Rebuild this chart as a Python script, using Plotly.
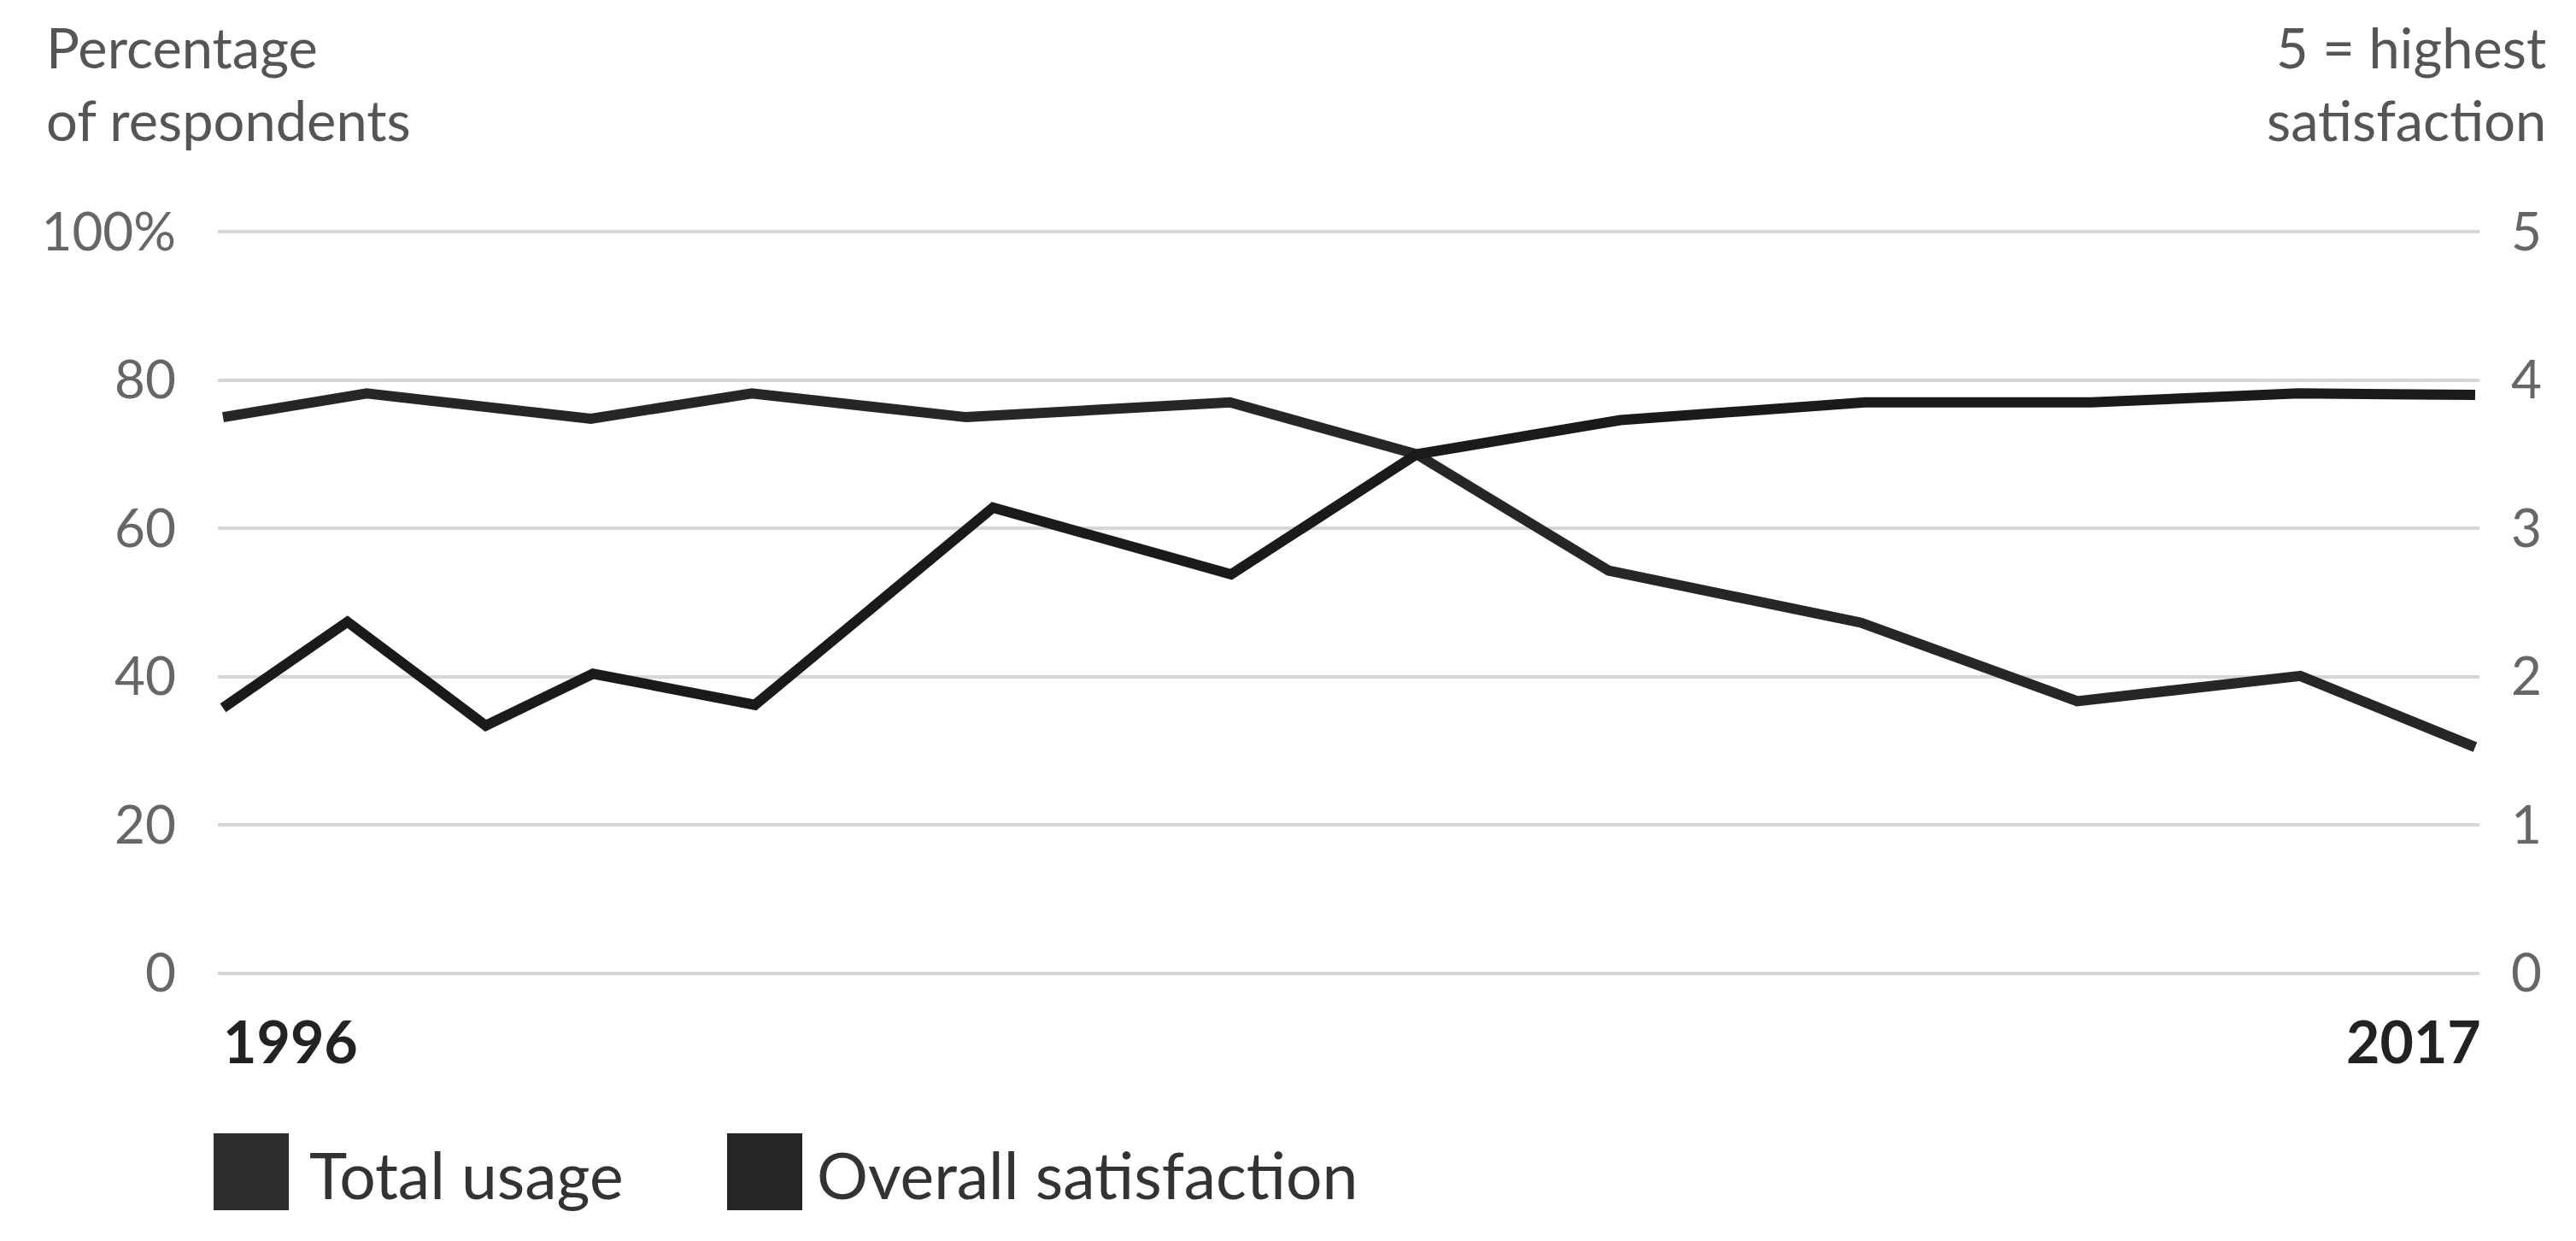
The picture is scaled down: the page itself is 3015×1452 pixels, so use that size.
import plotly.graph_objects as go

# ---- data ----
usage_years = [1996.0, 1997.34, 1999.43, 2000.93, 2002.93, 2005.39, 2007.13,
               2008.92, 2011.27, 2013.29, 2015.37, 2017.0]
usage_pct = [75.0, 78.2, 74.8, 78.2, 75.0, 77.0, 70.0, 54.3, 47.3, 36.7, 40.1, 30.5]

satisfaction_years = [1996.0, 1997.16, 1998.45, 1999.45, 2000.96, 2003.18, 2005.40,
                      2007.13, 2009.03, 2011.31, 2013.42, 2015.35, 2017.0]
satisfaction_score = [1.79, 2.37, 1.67, 2.02, 1.81, 3.14, 2.69, 3.50, 3.73, 3.85,
                      3.85, 3.91, 3.90]

left_ticks = [0, 20, 40, 60, 80, 100]
left_ticktext = ["0", "20", "40", "60", "80", "100%"]
right_ticks = [0, 1, 2, 3, 4, 5]
year_labels = ["1996", "2017"]
series_names = ["Total usage", "Overall satisfaction"]

# ---- layout geometry (pixels) ----
W, H = 3015, 1452
PAD = 0.6                      # small range padding so edge gridlines render
L, R = 247, 121
Y100, Y0 = 263, 1131           # pixel rows of the 100 % and 0 gridlines
UNIT = (Y0 - Y100) / 100.0
T = int(round(Y100 - PAD * UNIT))
B = int(round(H - (Y0 + PAD * UNIT)))
PW, PH = W - L - R, H - T - B

def px(x):
    return (x - L) / PW

def py(y):
    return (H - B - y) / PH

FONT = "Lato, 'Open Sans', sans-serif"
USAGE_COLOR = "#262626"
SAT_COLOR = "#1a1a1a"

fig = go.Figure()
fig.add_trace(go.Scatter(x=usage_years, y=usage_pct, mode="lines",
                         name=series_names[0],
                         line=dict(color=USAGE_COLOR, width=12),
                         yaxis="y"))
fig.add_trace(go.Scatter(x=satisfaction_years, y=satisfaction_score, mode="lines",
                         name=series_names[1],
                         line=dict(color=SAT_COLOR, width=12),
                         yaxis="y2"))

annotations = [
    dict(text="Percentage<br>of respondents", xref="paper", yref="paper",
         x=px(44), y=py(6), xanchor="left", yanchor="top", align="left",
         showarrow=False, font=dict(family=FONT, size=65, color="#555555")),
    dict(text="5 = highest<br>satisfaction", xref="paper", yref="paper",
         x=px(2974), y=py(6), xanchor="right", yanchor="top", align="right",
         showarrow=False, font=dict(family=FONT, size=65, color="#555555")),
    dict(text="<b>%s</b>" % year_labels[0], xref="x", yref="paper",
         x=usage_years[0], y=py(1209), xanchor="left", yanchor="middle",
         xshift=-2, showarrow=False, font=dict(family=FONT, size=68, color="#222222")),
    dict(text="<b>%s</b>" % year_labels[1], xref="x", yref="paper",
         x=usage_years[-1], y=py(1209), xanchor="right", yanchor="middle",
         xshift=9, showarrow=False, font=dict(family=FONT, size=68, color="#222222")),
    dict(text=series_names[0], xref="paper", yref="paper",
         x=px(352), y=py(1366), xanchor="left", yanchor="middle",
         showarrow=False, font=dict(family=FONT, size=75, color="#333333")),
    dict(text=series_names[1], xref="paper", yref="paper",
         x=px(946), y=py(1366), xanchor="left", yanchor="middle",
         showarrow=False, font=dict(family=FONT, size=75, color="#333333")),
]

shapes = [
    dict(type="rect", xref="paper", yref="paper",
         x0=px(242), x1=px(330), y0=py(1408), y1=py(1318),
         fillcolor="#2e2e2e", line=dict(width=0)),
    dict(type="rect", xref="paper", yref="paper",
         x0=px(843), x1=px(931), y0=py(1408), y1=py(1318),
         fillcolor="#262626", line=dict(width=0)),
]

fig.update_layout(
    width=W, height=H,
    margin=dict(l=L, r=R, t=T, b=B, pad=0),
    paper_bgcolor="white", plot_bgcolor="white",
    showlegend=False,
    font=dict(family=FONT, color="#555555"),
    xaxis=dict(range=[1995.952, 2017.04], showgrid=False, zeroline=False,
               showticklabels=False, ticks="", showline=False),
    yaxis=dict(range=[-PAD, 100 + PAD], tickvals=left_ticks, ticktext=left_ticktext,
               showgrid=True, gridcolor="#d6d6d6", gridwidth=4,
               zeroline=False, showline=False, ticks="",
               ticklabelstandoff=48,
               tickfont=dict(family=FONT, size=62, color="#666666")),
    yaxis2=dict(range=[-PAD / 20, 5 + PAD / 20], tickvals=right_ticks,
                overlaying="y", side="right",
                showgrid=False, zeroline=False, showline=False, ticks="",
                ticklabelstandoff=36,
                tickfont=dict(family=FONT, size=62, color="#666666")),
    annotations=annotations,
    shapes=shapes,
)

fig.write_html("out.html")
